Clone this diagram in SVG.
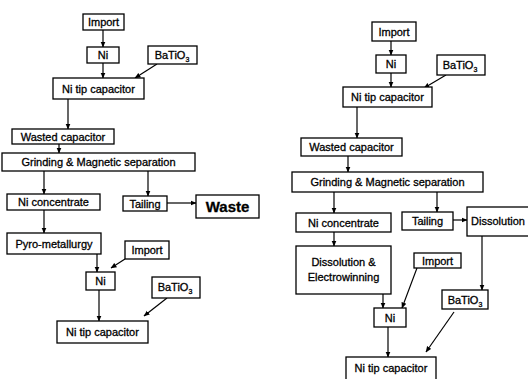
<svg xmlns="http://www.w3.org/2000/svg" width="528" height="379" viewBox="0 0 528 379">
<defs>
<marker id="ah" markerWidth="6" markerHeight="6" refX="5.5" refY="3" orient="auto" markerUnits="userSpaceOnUse">
<path d="M0,0.5 L6,3 L0,5.5 Z" fill="#000"/>
</marker>
</defs>
<style>
rect{fill:#fff;stroke:#000;stroke-width:1.3}
text{font-family:"Liberation Sans",Arial,sans-serif;font-size:11px;fill:#000;stroke:#000;stroke-width:0.3;text-anchor:middle}
.big{font-size:15px;font-weight:bold}
.sub{font-size:7px}
#connectors line{stroke:#000;stroke-width:1.2;marker-end:url(#ah)}
</style>
<rect x="0" y="0" width="528" height="379" style="fill:#fff;stroke:none"/>
<g id="connectors">
<line x1="103" y1="30" x2="103" y2="47"/>
<line x1="103" y1="63" x2="103" y2="78"/>
<line x1="157" y1="64" x2="135" y2="78"/>
<line x1="68" y1="99" x2="68" y2="129"/>
<line x1="59" y1="144" x2="59" y2="153"/>
<line x1="44" y1="171" x2="44" y2="194"/>
<line x1="148" y1="171" x2="148" y2="196"/>
<line x1="167" y1="203" x2="196" y2="203"/>
<line x1="44" y1="210" x2="44" y2="233"/>
<line x1="97" y1="254" x2="97" y2="272"/>
<line x1="125" y1="259" x2="111" y2="268"/>
<line x1="99" y1="290" x2="99" y2="321"/>
<line x1="167" y1="298" x2="144" y2="316"/>
<line x1="391" y1="41" x2="391" y2="55"/>
<line x1="391" y1="73" x2="391" y2="87"/>
<line x1="446" y1="75" x2="424" y2="88"/>
<line x1="357" y1="107" x2="357" y2="138"/>
<line x1="348" y1="156" x2="348" y2="172"/>
<line x1="334" y1="192" x2="334" y2="213"/>
<line x1="437" y1="192" x2="437" y2="212"/>
<line x1="453" y1="220" x2="467" y2="220"/>
<line x1="334" y1="232" x2="334" y2="246"/>
<line x1="482" y1="236" x2="482" y2="290"/>
<line x1="383" y1="294" x2="383" y2="308"/>
<line x1="417" y1="268" x2="402" y2="308"/>
<line x1="388" y1="327" x2="388" y2="357"/>
<line x1="454" y1="312" x2="426" y2="352"/>
</g>
<g id="import1"><rect x="83" y="14" width="41" height="16"/><text x="103.5" y="26">Import</text></g>
<g id="ni1"><rect x="87" y="47" width="32" height="16"/><text x="103" y="59">Ni</text></g>
<g id="batio1"><rect x="148" y="46" width="49" height="18"/><text x="172" y="59">BaTiO<tspan class="sub" dy="3">3</tspan></text></g>
<g id="ntc1"><rect x="53" y="78" width="91" height="21"/><text x="98.5" y="92.5">Ni tip capacitor</text></g>
<g id="wasted1"><rect x="12" y="129" width="102" height="15"/><text x="63" y="140.5">Wasted capacitor</text></g>
<g id="grinding1"><rect x="2" y="153" width="193" height="18"/><text x="98.5" y="166">Grinding &amp; Magnetic separation</text></g>
<g id="niconc1"><rect x="7" y="194" width="93" height="16"/><text x="53.5" y="206">Ni concentrate</text></g>
<g id="tailing1"><rect x="123" y="196" width="44" height="15"/><text x="145" y="207.5">Tailing</text></g>
<g id="waste"><rect x="196" y="195" width="63" height="23"/><text class="big" x="227.5" y="212">Waste</text></g>
<g id="pyro"><rect x="7" y="233" width="94" height="21"/><text x="54" y="247.5">Pyro-metallurgy</text></g>
<g id="import2"><rect x="125" y="241" width="44" height="18"/><text x="147" y="254">Import</text></g>
<g id="ni2"><rect x="86" y="272" width="29" height="18"/><text x="100.5" y="285">Ni</text></g>
<g id="batio2"><rect x="152" y="277" width="48" height="21"/><text x="175" y="291">BaTiO<tspan class="sub" dy="3">3</tspan></text></g>
<g id="ntc2"><rect x="57" y="321" width="91" height="22"/><text x="102.5" y="336">Ni tip capacitor</text></g>
<g id="import3"><rect x="372" y="22" width="44" height="19"/><text x="394" y="35.5">Import</text></g>
<g id="ni3"><rect x="376" y="55" width="30" height="18"/><text x="391" y="68">Ni</text></g>
<g id="batio3"><rect x="437" y="55" width="48" height="20"/><text x="460" y="68.5">BaTiO<tspan class="sub" dy="3">3</tspan></text></g>
<g id="ntc3"><rect x="343" y="87" width="89" height="20"/><text x="387.5" y="101">Ni tip capacitor</text></g>
<g id="wasted3"><rect x="301" y="138" width="101" height="18"/><text x="351.5" y="151">Wasted capacitor</text></g>
<g id="grinding3"><rect x="292" y="172" width="191" height="20"/><text x="387.5" y="186">Grinding &amp; Magnetic separation</text></g>
<g id="niconc3"><rect x="296" y="213" width="95" height="19"/><text x="343.5" y="226.5">Ni concentrate</text></g>
<g id="tailing3"><rect x="402" y="212" width="51" height="18"/><text x="427.5" y="225">Tailing</text></g>
<g id="dissolution"><rect x="467" y="207" width="70" height="29"/><text x="498" y="225">Dissolution</text></g>
<g id="dissel"><rect x="296" y="246" width="95" height="48"/><text x="343.5" y="266">Dissolution &amp;</text><text x="343.5" y="281">Electrowinning</text></g>
<g id="import4"><rect x="414" y="253" width="47" height="15"/><text x="437.5" y="264.5">Import</text></g>
<g id="ni4"><rect x="374" y="308" width="32" height="19"/><text x="390" y="321.5">Ni</text></g>
<g id="batio4"><rect x="442" y="290" width="46" height="19"/><text x="465" y="303.5">BaTiO<tspan class="sub" dy="3">3</tspan></text></g>
<g id="ntc4"><rect x="346" y="357" width="90" height="30"/><text x="391" y="372">Ni tip capacitor</text></g>
</svg>
